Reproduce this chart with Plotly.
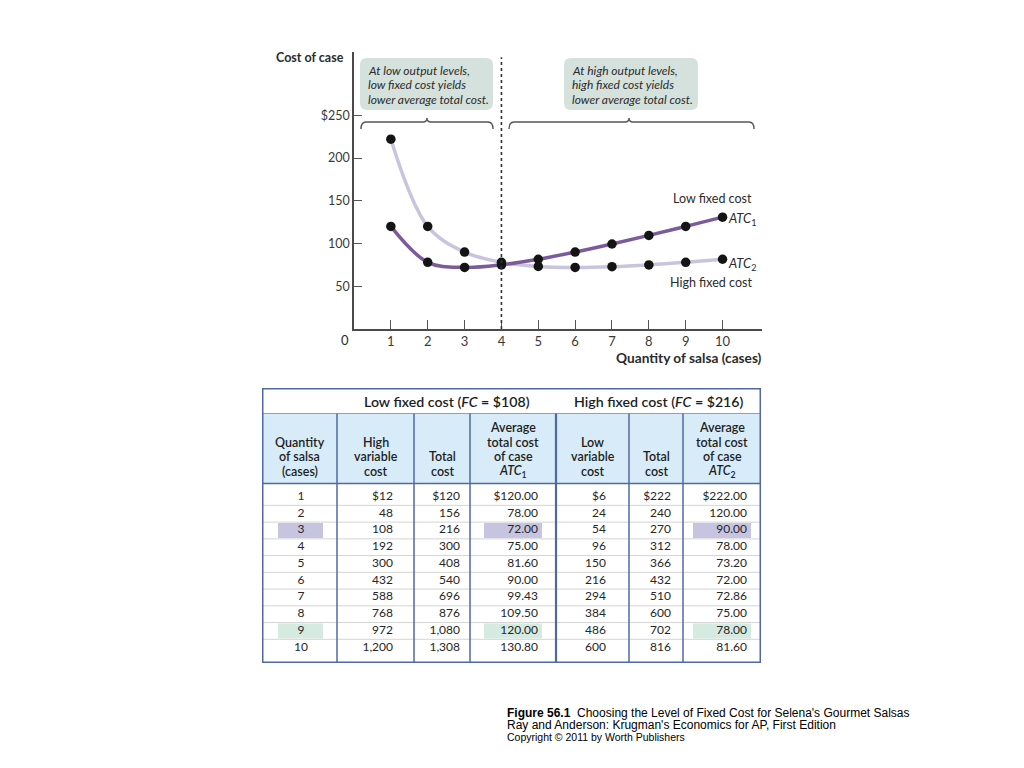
import plotly.graph_objects as go

W, H = 1024, 768

# ---------------- data ----------------
quantity = [1, 2, 3, 4, 5, 6, 7, 8, 9, 10]
high_variable_cost = [12, 48, 108, 192, 300, 432, 588, 768, 972, 1200]
total_cost_low_fc = [120, 156, 216, 300, 408, 540, 696, 876, 1080, 1308]
atc1 = [120.00, 78.00, 72.00, 75.00, 81.60, 90.00, 99.43, 109.50, 120.00, 130.80]
low_variable_cost = [6, 24, 54, 96, 150, 216, 294, 384, 486, 600]
total_cost_high_fc = [222, 240, 270, 312, 366, 432, 510, 600, 702, 816]
atc2 = [222.00, 120.00, 90.00, 78.00, 73.20, 72.00, 72.86, 75.00, 78.00, 81.60]

x_ticks = [1, 2, 3, 4, 5, 6, 7, 8, 9, 10]
y_ticks = [50, 100, 150, 200, 250]
y_tick_labels = ["50", "100", "150", "200", "$250"]
crossover_q = 4
purple_row = 3
green_row = 9

box_left_lines = ["At low output levels,", "low fixed cost yields", "lower average total cost."]
box_right_lines = ["At high output levels,", "high fixed cost yields", "lower average total cost."]

group_headers = ["Low fixed cost (<i>FC</i> = $108)", "High fixed cost (<i>FC</i> = $216)"]
col_headers = [
    ["Quantity", "of salsa", "(cases)"],
    ["High", "variable", "cost"],
    ["Total", "cost"],
    ["Average", "total cost", "of case", "<i>ATC</i><sub>1</sub>"],
    ["Low", "variable", "cost"],
    ["Total", "cost"],
    ["Average", "total cost", "of case", "<i>ATC</i><sub>2</sub>"],
]
caption_lines = [
    "<b>Figure 56.1</b>  Choosing the Level of Fixed Cost for Selena's Gourmet Salsas",
    "Ray and Anderson: Krugman's Economics for AP, First Edition",
    "Copyright \u00a9 2011 by Worth Publishers",
]

# ---------------- helpers ----------------
def px(x):
    return x / W

def py(y):
    return 1 - y / H

FONT = "Lato"
TXT = "#2b2b2b"
C_ATC1 = "#7b5b9c"
C_ATC2 = "#c9c4de"
BOX = "#d5e1dc"
TBL_BLUE = "#5069a5"
HDR_FILL = "#d7ecf8"
HL_PURPLE = "#c7c4e2"
HL_GREEN = "#d5ebe2"

# table geometry (pixel-ish x, row-unit y)
ROW1_Y, ROW_H = 497.0, 16.74
def r(ypix):
    return 1 + (ypix - ROW1_Y) / ROW_H

col_edges = [262, 337, 414, 470, 556, 629, 683, 761]

fig = go.Figure()

# ---------------- chart ----------------
fig.add_trace(go.Scatter(x=quantity, y=atc2, mode="lines",
                         line=dict(color=C_ATC2, width=3.5, shape="spline", smoothing=1.0),
                         hoverinfo="skip", xaxis="x", yaxis="y"))
fig.add_trace(go.Scatter(x=quantity, y=atc1, mode="lines",
                         line=dict(color=C_ATC1, width=3.5, shape="spline", smoothing=1.0),
                         hoverinfo="skip", xaxis="x", yaxis="y"))
fig.add_trace(go.Scatter(x=quantity + quantity, y=atc1 + atc2, mode="markers",
                         marker=dict(color="#141414", size=9.5),
                         hoverinfo="skip", xaxis="x", yaxis="y"))

# ---------------- table cells ----------------
def money(v, first, dec=False):
    s = f"{v:,.2f}" if dec else f"{v:,}"
    return ("$" + s) if first else s

columns = [
    (quantity, None, 301, "middle center"),
    (high_variable_cost, False, 393, "middle left"),
    (total_cost_low_fc, False, 460, "middle left"),
    (atc1, True, 538, "middle left"),
    (low_variable_cost, False, 606, "middle left"),
    (total_cost_high_fc, False, 671, "middle left"),
    (atc2, True, 747, "middle left"),
]
for vals, dec, xpos, tpos in columns:
    if dec is None:
        texts = [str(v) for v in vals]
    else:
        texts = [money(v, i == 0, dec) for i, v in enumerate(vals)]
    fig.add_trace(go.Scatter(x=[xpos] * len(vals), y=quantity, mode="text", text=texts,
                             textposition=tpos,
                             textfont=dict(family=FONT, size=12, color="#262626"),
                             hoverinfo="skip", xaxis="x2", yaxis="y2"))

shapes = []
annotations = []

# dotted crossover line
shapes.append(dict(type="line", xref="x", yref="y", x0=crossover_q, x1=crossover_q, y0=0, y1=318,
                   line=dict(color="#333333", width=1.6, dash="dot")))

# rounded boxes
def rounded(x0, y0, x1, y1, rad):
    def P(x, y):
        return f"{px(x):.5f},{py(y):.5f}"
    return (f"M {P(x0+rad, y0)} L {P(x1-rad, y0)} Q {P(x1, y0)} {P(x1, y0+rad)} "
            f"L {P(x1, y1-rad)} Q {P(x1, y1)} {P(x1-rad, y1)} L {P(x0+rad, y1)} "
            f"Q {P(x0, y1)} {P(x0, y1-rad)} L {P(x0, y0+rad)} Q {P(x0, y0)} {P(x0+rad, y0)} Z")

for (bx0, bx1), lines in [((360, 493), box_left_lines), ((564, 698), box_right_lines)]:
    shapes.append(dict(type="path", xref="paper", yref="paper", path=rounded(bx0, 58, bx1, 110, 7),
                       fillcolor=BOX, line=dict(width=0), layer="below"))
    for i, t in enumerate(lines):
        annotations.append(dict(xref="paper", yref="paper", x=px(bx0 + 6), y=py(70.5 + i * 14.3),
                                xanchor="left", yanchor="middle", text=f"<i>{t}</i>", showarrow=False,
                                font=dict(family=FONT, size=12, color=TXT)))

# braces
def brace(x0, x1, xm, yb):
    def P(x, y):
        return f"{px(x):.5f},{py(y):.5f}"
    return (f"M {P(x0, yb+7)} Q {P(x0, yb)} {P(x0+5, yb)} L {P(xm-4, yb)} Q {P(xm, yb)} {P(xm, yb-4)} "
            f"Q {P(xm, yb)} {P(xm+4, yb)} L {P(x1-5, yb)} Q {P(x1, yb)} {P(x1, yb+7)}")

shapes.append(dict(type="path", xref="paper", yref="paper", path=brace(361, 493, 427, 122),
                   line=dict(color="#555555", width=1.4)))
shapes.append(dict(type="path", xref="paper", yref="paper", path=brace(509, 754, 629, 122),
                   line=dict(color="#555555", width=1.4)))

# chart labels
def ann(x, y, text, xanchor="left", size=12, family=FONT, color=TXT, yanchor="middle"):
    annotations.append(dict(xref="paper", yref="paper", x=px(x), y=py(y), text=text,
                            xanchor=xanchor, yanchor=yanchor, showarrow=False,
                            font=dict(family=family, size=size, color=color)))

ann(274, 57, "<b>Cost of case</b>", size=12.5)
ann(764, 358, "<b>Quantity of salsa (cases)</b>", xanchor="right", size=13.7)
ann(345, 340, "0", xanchor="center", size=13)
ann(754, 199, "Low fixed cost", xanchor="right", size=12.5)
ann(726, 219, "<i>ATC</i><sub>1</sub>", size=13)
ann(726, 264, "<i>ATC</i><sub>2</sub>", size=13)
ann(754, 283, "High fixed cost", xanchor="right", size=12.5)

# ---------------- table decorations ----------------
hdr_top, hdr_mid, hdr_bot, tbl_bot = 388, 413.5, 483.5, 663
shapes.append(dict(type="rect", xref="x2", yref="y2", x0=col_edges[0], x1=col_edges[-1],
                   y0=r(hdr_mid), y1=r(hdr_bot), fillcolor=HDR_FILL, line=dict(width=0), layer="below"))
# highlights
for row, colr in [(purple_row, HL_PURPLE), (green_row, HL_GREEN)]:
    for hx0, hx1 in [(278, 323), (484, 542), (693, 751)]:
        shapes.append(dict(type="rect", xref="x2", yref="y2", x0=hx0, x1=hx1, y0=row - 0.45, y1=row + 0.45,
                           fillcolor=colr, line=dict(width=0), layer="below"))
# row separators
for q in quantity[:-1]:
    shapes.append(dict(type="line", xref="x2", yref="y2", x0=col_edges[0], x1=col_edges[-1],
                       y0=q + 0.5, y1=q + 0.5, line=dict(color="#d4d4d4", width=1)))
# header separators
shapes.append(dict(type="line", xref="x2", yref="y2", x0=col_edges[0], x1=col_edges[-1],
                   y0=r(hdr_mid), y1=r(hdr_mid), line=dict(color="#8aa0cc", width=1)))
shapes.append(dict(type="line", xref="x2", yref="y2", x0=col_edges[0], x1=col_edges[-1],
                   y0=r(hdr_bot), y1=r(hdr_bot), line=dict(color=TBL_BLUE, width=1.5)))
# column lines
for i, xe in enumerate(col_edges[1:-1]):
    shapes.append(dict(type="line", xref="x2", yref="y2", x0=xe, x1=xe, y0=r(hdr_mid), y1=r(tbl_bot),
                       line=dict(color=TBL_BLUE, width=2.2 if i == 3 else 1.5)))
# outer border
shapes.append(dict(type="rect", xref="x2", yref="y2", x0=col_edges[0], x1=col_edges[-1],
                   y0=r(hdr_top), y1=r(tbl_bot), line=dict(color=TBL_BLUE, width=3)))

# group headers
for text, (a, b) in zip(group_headers, [(1, 4), (4, 7)]):
    annotations.append(dict(xref="x2", yref="y2", x=(col_edges[a] + col_edges[b]) / 2, y=r(401),
                            text=text, showarrow=False, xanchor="center", yanchor="middle",
                            font=dict(family=FONT, size=14.2, color="#1e1e1e", weight=600)))
# column headers (bottom aligned)
for ci, lines in enumerate(col_headers):
    xc = (col_edges[ci] + col_edges[ci + 1]) / 2
    n = len(lines)
    for li, t in enumerate(lines):
        yy = 471 - (n - 1 - li) * 14.4
        annotations.append(dict(xref="x2", yref="y2", x=xc, y=r(yy), text=t, showarrow=False,
                                xanchor="center", yanchor="middle",
                                font=dict(family=FONT, size=12.5, color="#1e1e1e", weight=600)))

# caption
ann(505, 713, caption_lines[0], size=12, family="Liberation Sans", color="#000000")
ann(505, 725, caption_lines[1], size=12, family="Liberation Sans", color="#000000")
ann(505, 737, caption_lines[2], size=10.5, family="Liberation Sans", color="#000000")

# ---------------- layout ----------------
fig.update_layout(
    width=W, height=H, margin=dict(l=0, r=0, t=0, b=0),
    paper_bgcolor="white", plot_bgcolor="rgba(0,0,0,0)",
    showlegend=False, font=dict(family=FONT, color=TXT, size=12),
    shapes=shapes, annotations=annotations,
    xaxis=dict(domain=[px(354), px(762)], range=[0, 11.07], tickvals=x_ticks,
               ticks="inside", ticklen=9, tickcolor="#555555", tickwidth=1.3,
               showline=True, linecolor="#4a4a4a", linewidth=1.6, showgrid=False, zeroline=False,
               tickfont=dict(family=FONT, size=13, color="#3a3a3a"), fixedrange=True),
    yaxis=dict(domain=[py(329), py(52)], range=[0, 324], tickvals=y_ticks, ticktext=y_tick_labels,
               ticks="inside", ticklen=8, tickcolor="#555555", tickwidth=1.3,
               showline=True, linecolor="#4a4a4a", linewidth=1.6, showgrid=False, zeroline=False,
               tickfont=dict(family=FONT, size=12.5, color="#3a3a3a"), fixedrange=True),
    xaxis2=dict(domain=[px(262), px(761)], range=[262, 761], visible=False, fixedrange=True),
    yaxis2=dict(domain=[py(tbl_bot), py(hdr_top)], range=[r(tbl_bot), r(hdr_top)], visible=False,
                fixedrange=True),
)

fig.write_html("out.html", config={"displayModeBar": False},
               post_script="document.body.style.margin='0';document.body.style.overflow='hidden';")
